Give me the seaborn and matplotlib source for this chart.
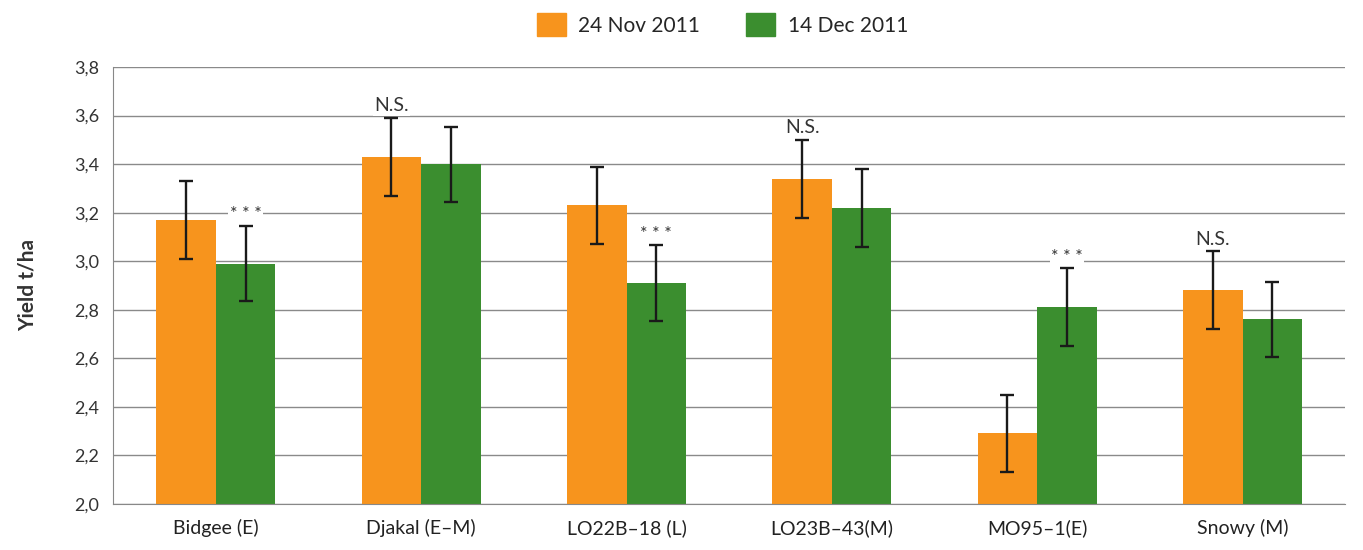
import numpy as np
import pandas as pd
import matplotlib.pyplot as plt
import seaborn as sns

# Data
varieties = ['Bidgee (E)', 'Djakal (E–M)', 'LO22B–18 (L)', 'LO23B–43(M)', 'MO95–1(E)', 'Snowy (M)']
dates = ['24 Nov 2011', '14 Dec 2011']
yield_nov = [3.17, 3.43, 3.23, 3.34, 2.29, 2.88]
yield_dec = [2.99, 3.40, 2.91, 3.22, 2.81, 2.76]
err_nov = [0.16, 0.16, 0.16, 0.16, 0.16, 0.16]
err_dec = [0.155, 0.155, 0.155, 0.16, 0.16, 0.155]
# significance labels: (variety index, date index, text)
sig_labels = [(0, 1, '* * *'), (1, 0, 'N.S.'), (2, 1, '* * *'),
              (3, 0, 'N.S.'), (4, 1, '* * *'), (5, 0, 'N.S.')]

colors = ['#F7941D', '#3B8E2F']

df = pd.DataFrame({
    'variety': varieties * 2,
    'date': [dates[0]] * len(varieties) + [dates[1]] * len(varieties),
    'yield': yield_nov + yield_dec,
})

sns.set_style('white')
plt.rcParams['font.family'] = ['Lato', 'DejaVu Sans']

fig = plt.figure(figsize=(13.63, 5.5), dpi=100)
ax = fig.add_axes([0.083, 0.084, 0.904, 0.794])

sns.barplot(data=df, x='variety', y='yield', hue='date', order=varieties,
            hue_order=dates, palette=colors, width=0.58, errorbar=None,
            saturation=1, linewidth=0, ax=ax, zorder=2, legend=False)

errs = [err_nov, err_dec]
vals = [yield_nov, yield_dec]
centers = {}
bar_containers = list(ax.containers)
for h, cont in enumerate(bar_containers):
    xs = [p.get_x() + p.get_width() / 2 for p in cont.patches]
    centers[h] = xs
    ax.errorbar(xs, vals[h], yerr=errs[h], fmt='none', ecolor='#1a1a1a',
                elinewidth=1.7, capsize=5, capthick=1.7, zorder=4)

for i, h, txt in sig_labels:
    top = vals[h][i] + errs[h][i]
    fs = 14 if txt == 'N.S.' else 13
    ax.text(centers[h][i], top + 0.015, txt, ha='center', va='bottom',
            fontsize=fs, color='#333333', zorder=5,
            bbox=dict(facecolor='white', edgecolor='none', pad=1))

ax.set_ylim(2.0, 3.8)
ax.set_xlim(-0.5, len(varieties) - 0.5)
yt = np.arange(2.0, 3.81, 0.2)
ax.set_yticks(yt)
ax.set_yticklabels([f'{v:.1f}'.replace('.', ',') for v in yt], fontsize=13, color='#333333')
ax.yaxis.grid(True, color='#8a8a8a', linewidth=1.0, zorder=0)
ax.set_axisbelow(True)

# Excel-style tick marks at category boundaries
ax.set_xticks(np.arange(-0.5, len(varieties) + 0.5, 1), minor=False)
ax.set_xticklabels([])
ax.set_xticks(np.arange(len(varieties)), minor=True)
ax.set_xticklabels(varieties, minor=True, fontsize=14, color='#222222')
ax.tick_params(axis='x', which='major', direction='out', length=7, color='#888888', width=1)
ax.tick_params(axis='x', which='minor', length=0, pad=11)
ax.tick_params(axis='y', direction='out', length=6, color='#888888', width=1, pad=4)

for s in ['top', 'right']:
    ax.spines[s].set_visible(False)
ax.spines['left'].set_color('#888888')
ax.spines['bottom'].set_color('#888888')

ax.set_xlabel('')
ax.set_ylabel('Yield t/ha', fontsize=15, fontweight='bold', color='#333333', labelpad=26)

handles = [plt.Rectangle((0, 0), 1, 1, color=c) for c in colors]
fig.legend(handles, dates, loc='center', bbox_to_anchor=(0.53, 0.955), ncol=2,
           frameon=False, fontsize=15, handlelength=1.4, handleheight=1.3,
           columnspacing=2.2, handletextpad=0.6)

fig.savefig('out.png', dpi=100)
